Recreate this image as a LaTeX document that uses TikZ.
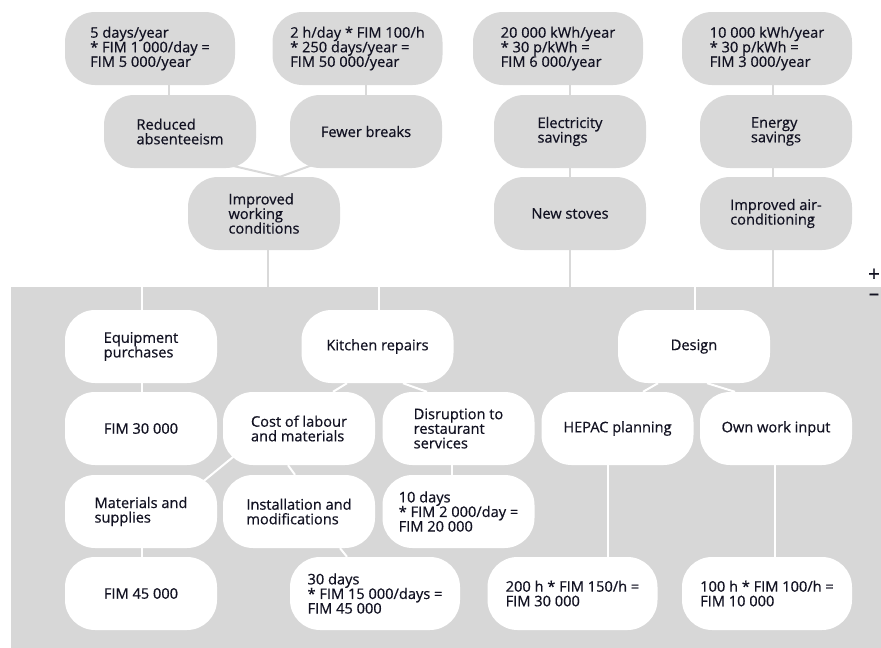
\documentclass[tikz,border=0pt]{standalone}
\usepackage{fontspec}
\setmainfont{Open Sans}
\newfontfamily\cardfont{Open Sans}[FakeBold=0.6]
\usetikzlibrary{calc}

\definecolor{boxgray}{RGB}{217,217,217}
\definecolor{bandgray}{RGB}{215,215,215}
\definecolor{ink}{RGB}{18,18,34}

\pgfdeclarelayer{band}
\pgfdeclarelayer{links}
\pgfsetlayers{band,links,main}

\tikzset{
  card/.style={rounded corners=30pt, minimum height=73pt, minimum width=152pt,
    inner sep=0pt, align=left, font=\cardfont\fontsize{14.6}{14.6}\selectfont, text=ink},
  gain/.style={card, fill=boxgray},
  cost/.style={card, fill=white},
  wide/.style={minimum width=170pt},
  gainlink/.style={draw=boxgray, line width=2pt},
  costlink/.style={draw=white, line width=2pt},
  sign/.style={font=\cardfont\fontsize{21}{21}\selectfont, text=ink, inner sep=0pt},
}

\begin{document}
\begin{tikzpicture}[x=1pt,y=-1pt]
\useasboundingbox (0,0) rectangle (881,648);

% cost area
\coordinate (bandL) at (11,287);
\coordinate (bandR) at (881,648);
\begin{pgfonlayer}{band}
  \fill[bandgray] (bandL) rectangle (bandR);
\end{pgfonlayer}

% benefits (top)
\node[gain,wide] (t1) at (150,48.5) {5 days/year\\* FIM 1 000/day =\\FIM 5 000/year};
\node[gain,wide] (t2) at (357.5,48.5) {2 h/day * FIM 100/h\\* 250 days/year =\\FIM 50 000/year};
\node[gain,wide] (t3) at (558,48.5) {20 000 kWh/year\\* 30 p/kWh =\\FIM 6 000/year};
\node[gain,wide] (t4) at (767,48.5) {10 000 kWh/year\\* 30 p/kWh =\\FIM 3 000/year};

\node[gain] (r)  at (180,131.5) {Reduced\\absenteeism};
\node[gain] (f)  at (366,131.5) {Fewer breaks};
\node[gain] (es) at (570,131.5) {Electricity\\savings};
\node[gain] (en) at (776,131.5) {Energy\\savings};

\node[gain] (iw) at (264,213.5) {Improved\\working\\conditions};
\node[gain] (ns) at (570,213.5) {New stoves};
\node[gain] (ac) at (776,213.5) {Improved air-\\conditioning};

% costs (bottom)
\node[cost] (eq)  at (141,346.5)   {Equipment\\purchases};
\node[cost] (kr)  at (377.5,346.5) {Kitchen repairs};
\node[cost] (de)  at (694,346.5)   {Design};

\node[cost] (f30) at (141,428.5)   {FIM 30 000};
\node[cost] (cl)  at (299,428.5)   {Cost of labour\\and materials};
\node[cost] (dr)  at (458.5,428.5) {Disruption to\\restaurant\\services};
\node[cost] (hp)  at (617.5,428.5) {HEPAC planning};
\node[cost] (ow)  at (776,428.5)   {Own work input};

\node[cost] (ms)  at (141,511.5)   {Materials and\\supplies};
\node[cost] (im)  at (299,511.5)   {Installation and\\modifications};
\node[cost] (td)  at (458.5,511.5) {10 days\\* FIM 2 000/day =\\FIM 20 000};

\node[cost] (f45)      at (141,593.5)   {FIM 45 000};
\node[cost,wide] (d30) at (375,593.5)   {30 days\\* FIM 15 000/days =\\FIM 45 000};
\node[cost,wide] (h200) at (572.5,593.5) {200 h * FIM 150/h =\\FIM 30 000};
\node[cost,wide] (h100) at (767,593.5)   {100 h * FIM 100/h =\\FIM 10 000};

% plus / minus markers at the right edge
\node[sign] (plus)  at (874,275) {+};
\node[sign] (minus) at (874,297) {–};

\begin{pgfonlayer}{links}
  % benefit tree
  \draw[gainlink] ($(r.center)+(-11,0)$) -- ($(t1.center)+(19,0)$);
  \draw[gainlink] (f.center) -- (f.center |- t2.center);
  \draw[gainlink] (es.center |- t3.center) -- (ns.center);
  \draw[gainlink] ($(t4.center)+(6,0)$) -- ($(ac.center)+(-3,0)$);
  \draw[gainlink] ($(r.center)+(6,23.5)$) -- ($(iw.north)+(16,0)$);
  \draw[gainlink] ($(f.center)+(-26,23.5)$) -- ($(iw.north)+(16,0)$);
  \coordinate (iwx) at ($(iw.center)+(4,0)$);
  \coordinate (acx) at ($(ac.center)+(-3,0)$);
  \draw[gainlink] (iwx) -- (iwx |- bandL);
  \draw[gainlink] (ns.center) -- (ns.center |- bandL);
  \draw[gainlink] (acx) -- (acx |- bandL);

  % cost tree
  \coordinate (eqx) at ($(eq.center)+(1,0)$);
  \coordinate (krx) at ($(kr.center)+(1.5,0)$);
  \coordinate (dex) at ($(de.center)+(1,0)$);
  \draw[costlink] (eqx |- bandL) -- ($(f30.center)+(1,0)$);
  \draw[costlink] (krx |- bandL) -- (krx);
  \draw[costlink] (dex |- bandL) -- (dex);
  \draw[costlink] ([xshift=-30.5pt]kr.south) -- ([xshift=34pt]cl.north);
  \draw[costlink] ([xshift=25.5pt]kr.south) -- ([xshift=-31.5pt]dr.north);
  \draw[costlink] ([xshift=-36pt]de.south) -- ([xshift=25.5pt]hp.north);
  \draw[costlink] ([xshift=13pt]de.south) -- ([xshift=-41pt]ow.north);
  \draw[costlink] ($(cl.center)+(-38,5.5)$) -- ($(ms.center)+(36,-8.5)$);
  \draw[costlink] ([xshift=-11pt]cl.south) -- ([xshift=-4pt]im.north);
  \draw[costlink] ([xshift=41pt]im.south) -- ([xshift=-28pt]d30.north);
  \draw[costlink] ($(ms.center)+(1,0)$) -- ($(f45.center)+(1,0)$);
  \draw[costlink] ($(dr.center)+(-6.5,0)$) -- ($(td.center)+(-6.5,0)$);
  \draw[costlink] ($(hp.center)+(-9.5,0)$) -- ($(h200.center)+(35.5,0)$);
  \draw[costlink] ($(ow.center)+(-1,0)$) -- ($(h100.center)+(8,0)$);
\end{pgfonlayer}
\end{tikzpicture}
\end{document}
